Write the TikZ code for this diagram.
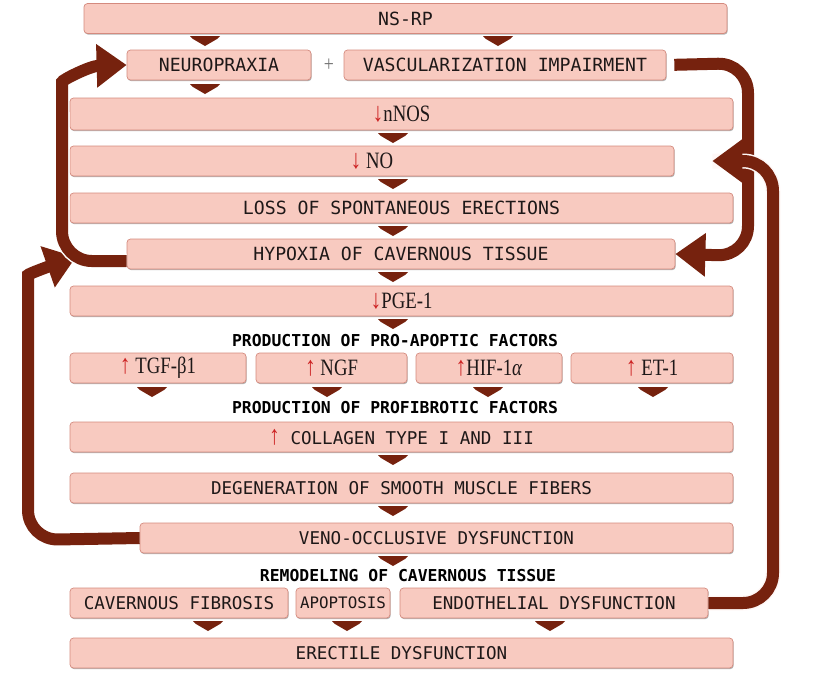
\documentclass[tikz,border=0pt]{standalone}
\usepackage{fontspec}
\setmainfont{Liberation Serif}
\setmonofont{DejaVu Sans Mono}
\newfontfamily\factorfont[FakeStretch=0.8]{Liberation Serif}
\usetikzlibrary{arrows.meta,shadows}
\definecolor{boxpink}{RGB}{248,202,192}
\definecolor{boxline}{RGB}{212,138,126}
\definecolor{dkbrown}{RGB}{118,34,14}
\definecolor{arrred}{RGB}{205,35,35}
\definecolor{boxtext}{RGB}{30,24,24}
\newlength\pxl \setlength\pxl{0.3mm}
\newcommand\dnarr{\textcolor{arrred}{\fontsize{23}{23}\selectfont ↓}}
\newcommand\uparr{\textcolor{arrred}{\factorfont\fontsize{23}{23}\selectfont ↑}}
\begin{document}
\begin{tikzpicture}[x=0.3mm, y=-0.3mm,
  box/.style={draw=boxline, line width=0.6pt, fill=boxpink, rounded corners=3pt,
    minimum height=30\pxl, inner sep=0pt, text=boxtext,
    font=\ttfamily\fontsize{15}{18}\selectfont,
    drop shadow={shadow xshift=0.6pt, shadow yshift=-1pt, opacity=0.3, fill=black}},
  factorbox/.style={box, font=\factorfont\fontsize{20}{22}\selectfont},
  steplabel/.style={font=\ttfamily\bfseries\fontsize{14}{17}\selectfont},
  backarrow/.style={draw=dkbrown, line width=12\pxl, rounded corners=9mm,
    -{Triangle[length=9mm,width=12.5mm]}},
  dtri/.pic={\fill[dkbrown] (-15,0) -- (15,0) -- (12,3) -- (0,10) -- (-12,3) -- cycle;}]
  \useasboundingbox (0,0) rectangle (814,689);
  % 위쪽 상자
  \node[box, minimum width=643\pxl, font=\ttfamily\fontsize{15.5}{18}\selectfont] (nsrp) at (405.5,18.5) {NS-RP};
  \node[box, minimum width=184\pxl, font=\ttfamily\fontsize{15.5}{18}\selectfont] (neuro) at (219,65) {NEUROPRAXIA};
  \node[text=black!55, font=\factorfont\fontsize{19}{20}\selectfont] (plus) at (329,65) {+};
  \node[box, minimum width=322\pxl, font=\ttfamily\fontsize{15.5}{18}\selectfont] (vasc) at (505,65) {VASCULARIZATION IMPAIRMENT};
  \node[factorbox, minimum width=663\pxl, minimum height=32\pxl] (nnos) at (401.5,114) {\dnarr nNOS};
  \node[factorbox, minimum width=604\pxl] (no) at (372,161) {\dnarr\ NO};
  \node[box, minimum width=663\pxl, font=\ttfamily\fontsize{15.5}{18}\selectfont] (loss) at (401.5,208) {LOSS OF SPONTANEOUS ERECTIONS};
  \node[box, minimum width=548\pxl, font=\ttfamily\fontsize{15.5}{18}\selectfont] (hyp) at (401,254) {HYPOXIA OF CAVERNOUS TISSUE};
  \node[factorbox, minimum width=663\pxl] (pge) at (401.5,301) {\dnarr PGE-1};
  % 인자들
  \node[steplabel] (prolab) at (395,341) {PRODUCTION OF PRO-APOPTIC FACTORS};
  \node[factorbox, minimum width=176\pxl] (tgf) at (158,368) {\uparr\ TGF-β1};
  \node[factorbox, minimum width=151\pxl] (ngf) at (331.5,368) {\uparr\ NGF};
  \node[factorbox, minimum width=146\pxl] (hif) at (489,368) {\uparr HIF-1\textit{α}};
  \node[factorbox, minimum width=162\pxl] (et) at (652,368) {\uparr\ ET-1};
  \node[steplabel] (fiblab) at (395,408) {PRODUCTION OF PROFIBROTIC FACTORS};
  \node[box, minimum width=663\pxl] (coll) at (401.5,437) {\uparr\ COLLAGEN TYPE I AND III};
  \node[box, minimum width=663\pxl] (degen) at (401.5,488) {DEGENERATION OF SMOOTH MUSCLE FIBERS};
  \node[box, minimum width=593\pxl] (veno) at (436.5,538) {VENO-OCCLUSIVE DYSFUNCTION};
  % 리모델링
  \node[steplabel] (remlab) at (408,576) {REMODELING OF CAVERNOUS TISSUE};
  \node[box, minimum width=218\pxl] (cavfib) at (179,603) {CAVERNOUS FIBROSIS};
  \node[box, minimum width=94\pxl, font=\ttfamily\fontsize{13.5}{16}\selectfont] (apop) at (343,603) {APOPTOSIS};
  \node[box, minimum width=308\pxl] (endo) at (554,603) {ENDOTHELIAL DYSFUNCTION};
  \node[box, minimum width=663\pxl] (erect) at (401.5,653) {ERECTILE DYSFUNCTION};
  % 작은 삼각형
  \foreach \x/\y in {205/36, 498/36, 205/84, 393/133, 393/179, 393/226, 393/272, 393/319,
    152/387, 327/387, 488/387, 653/387, 393/455, 393/506, 393/556, 208/621, 347/621, 550/621}
    \pic at (\x,\y) {dtri};
  % 되먹임 화살표
  \coordinate (dtip) at (76,257);
  \draw[backarrow] (veno.west) -- (28,540) -- (28,305) .. controls (28,274) and (50,266) .. (dtip);
  \draw[draw=white, line width=15\pxl, rounded corners=9mm] ([yshift=-6pt]hyp.west) -- (62,261) -- (62,112);
  \draw[backarrow] ([yshift=-6pt]hyp.west) -- (62,261) -- (62,112) .. controls (62,80) and (90,66) .. (neuro.west);
  \draw[backarrow, shorten <=8\pxl] (vasc.east) -- (748,63) -- (748,256) -- (hyp.east);
  \draw[draw=white!85!boxpink, line width=15\pxl, rounded corners=9mm, shorten >=38\pxl] (endo.east) -- (773,603) -- (773,161) -- (no.east);
  \draw[backarrow, shorten >=38\pxl] (endo.east) -- (773,603) -- (773,161) -- (no.east);
\end{tikzpicture}
\end{document}
